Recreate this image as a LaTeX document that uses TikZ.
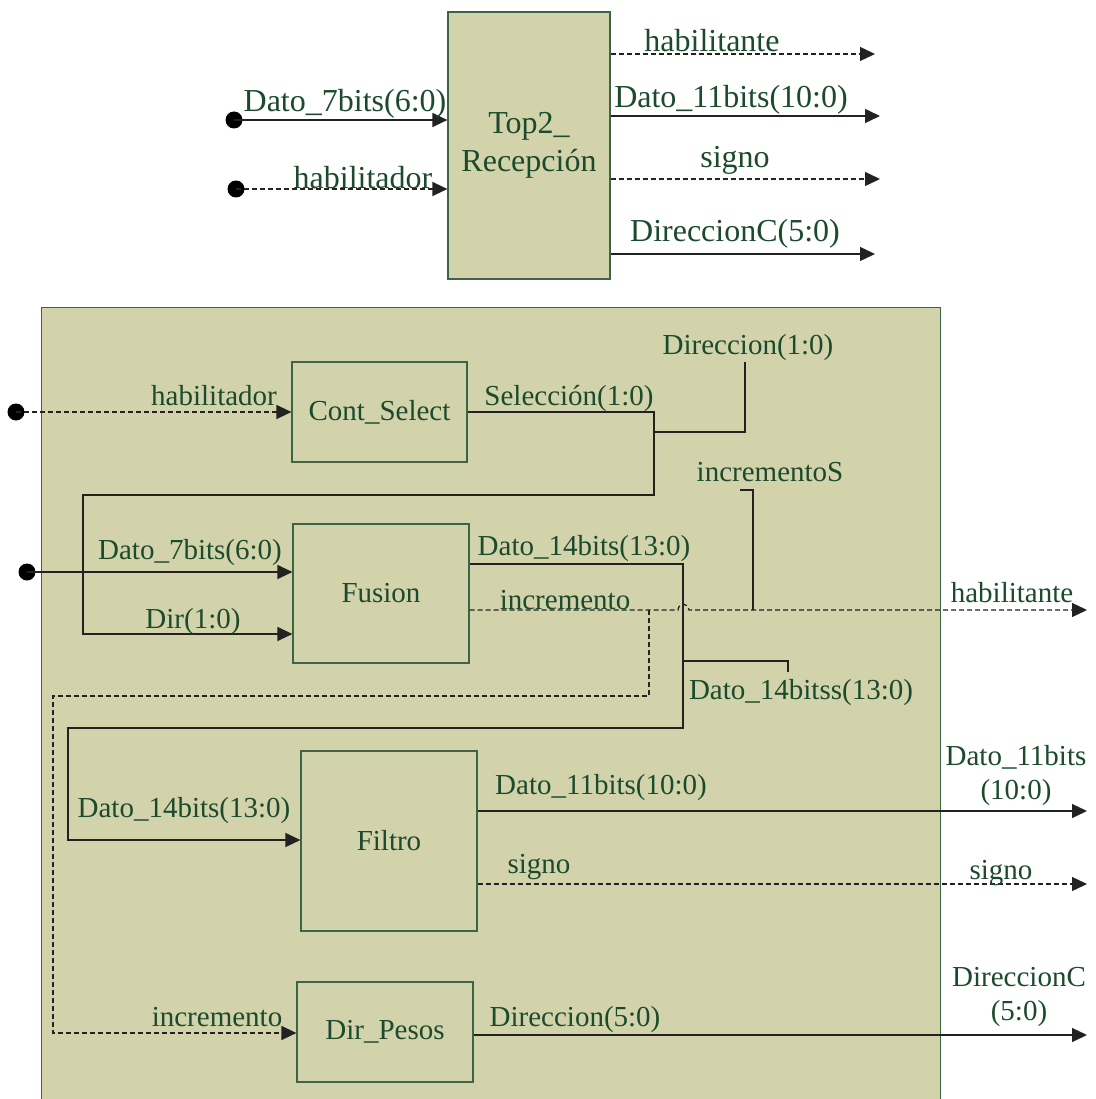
\documentclass[tikz,border=0pt]{standalone}
\usepackage{fontspec}
\setmainfont{Liberation Serif}
\usetikzlibrary{arrows.meta}
\definecolor{blockfill}{HTML}{D2D3AB}
\definecolor{blockedge}{HTML}{3E6448}
\definecolor{labelgreen}{HTML}{1B4A2C}
\definecolor{wire}{HTML}{222222}

\begin{document}
\begin{tikzpicture}[x=1pt,y=-1pt,
  block/.style={draw=blockedge, fill=blockfill, line width=1.2pt, inner sep=0pt,
    text=labelgreen, font=\fontsize{29}{38}\selectfont, align=center},
  sig/.style={draw=wire, line width=1.3pt},
  ctl/.style={sig, dash pattern=on 5pt off 3pt},
  tip/.style={-{Triangle[length=15pt,width=14pt]}},
  lab/.style={text=labelgreen, inner sep=0pt, font=\fontsize{29}{34}\selectfont, align=center, yshift=-3pt},
  biglab/.style={lab, font=\fontsize{32}{36}\selectfont},
  pin/.style={circle, fill=black, inner sep=0pt, minimum size=17pt}
]
\useasboundingbox (0,0) rectangle (1095,1099);

% ---------- upper module ----------
\node[block, minimum width=162pt, minimum height=267pt, font=\fontsize{32}{38}\selectfont]
  (top) at (529,145.5) {Top2\_\\Recepción};

\coordinate (tIn1) at (234,120);
\coordinate (tIn2) at (236,189);
\node[pin] (tPin1) at (tIn1) {};
\node[pin] (tPin2) at (tIn2) {};
\draw[sig,tip] (tIn1) -- (top.west |- tIn1);
\draw[ctl,tip] (tIn2) -- (top.west |- tIn2);

\coordinate (tOut1) at (875,54);
\coordinate (tOut2) at (880,116);
\coordinate (tOut3) at (880,179);
\coordinate (tOut4) at (875,254);
\draw[ctl,tip] (top.east |- tOut1) -- (tOut1);
\draw[sig,tip] (top.east |- tOut2) -- (tOut2);
\draw[ctl,tip] (top.east |- tOut3) -- (tOut3);
\draw[sig,tip] (top.east |- tOut4) -- (tOut4);

\node[biglab] (tlDato) at (345,101) {Dato\_7bits(6:0)};
\node[biglab] (tlHab) at (363,175) {habilitador};
\node[biglab] (tlHabt) at (712,38) {habilitante};
\node[biglab] (tlD11) at (731,97) {Dato\_11bits(10:0)};
\node[biglab] (tlSig) at (735,157) {signo};
\node[biglab] (tlDir) at (735,231) {DireccionC(5:0)};

% ---------- lower module ----------
\node[block, anchor=north west, minimum width=899pt, minimum height=810pt] (sys) at (41,307) {};

\node[block, minimum width=175pt, minimum height=100pt] (cs) at (379.5,412) {Cont\_Select};
\node[block, minimum width=176pt, minimum height=139pt] (fu) at (381,593.5) {Fusion};
\node[block, minimum width=176pt, minimum height=180pt] (fi) at (389,841) {Filtro};
\node[block, minimum width=176pt, minimum height=100pt] (dp) at (385,1032) {Dir\_Pesos};

% habilitador -> Cont_Select
\coordinate (pHab) at (16,412);
\node[pin] (pHabDot) at (pHab) {};
\draw[ctl,tip] (pHab) -- (cs.west |- pHab);

% Seleccion -> Dir of Fusion
\coordinate (selA) at (654,412);
\coordinate (selB) at (654,495);
\coordinate (selC) at (83,495);
\coordinate (selD) at (83,634);
\draw[sig,tip] (cs.east |- selA) -- (selA) -- (selB) -- (selC) -- (selD) -- (fu.west |- selD);

% Direccion(1:0) tap
\coordinate (dirA) at (654,432);
\coordinate (dirB) at (745,432);
\coordinate (dirC) at (745,362);
\draw[sig] (dirA) -- (dirB) -- (dirC);

% Dato_7bits -> Fusion
\coordinate (pD7) at (27,572);
\node[pin] (pD7Dot) at (pD7) {};
\draw[sig,tip] (pD7) -- (fu.west |- pD7);

% Dato_14bits: Fusion -> Filtro
\coordinate (d14A) at (683,564);
\coordinate (d14B) at (683,728);
\coordinate (d14C) at (68,728);
\coordinate (d14D) at (68,840);
\draw[sig,tip] (fu.east |- d14A) -- (d14A) -- (d14B) -- (d14C) -- (d14D) -- (fi.west |- d14D);

% Dato_14bitss tap
\coordinate (d14sA) at (683,661);
\coordinate (d14sB) at (788,661);
\coordinate (d14sC) at (788,672);
\draw[sig] (d14sA) -- (d14sB) -- (d14sC);

% incremento -> habilitante (with a hop over Dato_14bits)
\coordinate (incA) at (469,610);
\coordinate (hopL) at (678,610);
\coordinate (hopR) at (689,610);
\coordinate (oHab) at (1087,610);
\draw[ctl,tip] (fu.east |- incA) -- (hopL) .. controls (679,602) and (687,602) .. (hopR) -- (oHab);

% incremento -> Dir_Pesos
\coordinate (incB) at (649,610);
\coordinate (incC) at (649,696);
\coordinate (incD) at (53,696);
\coordinate (incE) at (53,1033);
\draw[ctl,tip] (incB) -- (incC) -- (incD) -- (incE) -- (dp.west |- incE);

% incrementoS tap
\coordinate (incSA) at (740,490);
\coordinate (incSB) at (753,490);
\coordinate (incSC) at (753,610);
\draw[sig] (incSA) -- (incSB) -- (incSC);

% Filtro outputs
\coordinate (oD11) at (1087,811);
\coordinate (oSig) at (1087,884);
\draw[sig,tip] (fi.east |- oD11) -- (oD11);
\draw[ctl,tip] (fi.east |- oSig) -- (oSig);

% Dir_Pesos output
\coordinate (oDir) at (1087,1035);
\draw[sig,tip] (dp.east |- oDir) -- (oDir);

% labels
\node[lab] (lHab) at (214,393) {habilitador};
\node[lab] (lSel) at (569,396) {Selección(1:0)};
\node[lab] (lDir10) at (748,345) {Direccion(1:0)};
\node[lab] (lIncS) at (770,469) {incrementoS};
\node[lab] (lD14a) at (584,546) {Dato\_14bits(13:0)};
\node[lab] (lD7) at (190,550) {Dato\_7bits(6:0)};
\node[lab] (lInc) at (565,597) {incremento};
\node[lab] (lHabt) at (1012,590) {habilitante};
\node[lab] (lDir) at (193,619) {Dir(1:0)};
\node[lab] (lD14s) at (801,690) {Dato\_14bitss(13:0)};
\node[lab] (lD11o) at (1016,773) {Dato\_11bits\\(10:0)};
\node[lab] (lD11) at (601,785) {Dato\_11bits(10:0)};
\node[lab] (lD14b) at (184,808) {Dato\_14bits(13:0)};
\node[lab] (lSig) at (539,864) {signo};
\node[lab] (lSigo) at (1001,870) {signo};
\node[lab] (lDirCo) at (1019,994) {DireccionC\\(5:0)};
\node[lab] (lDir50) at (575,1017) {Direccion(5:0)};
\node[lab] (lInc2) at (217,1014) {incremento};
\end{tikzpicture}
\end{document}
